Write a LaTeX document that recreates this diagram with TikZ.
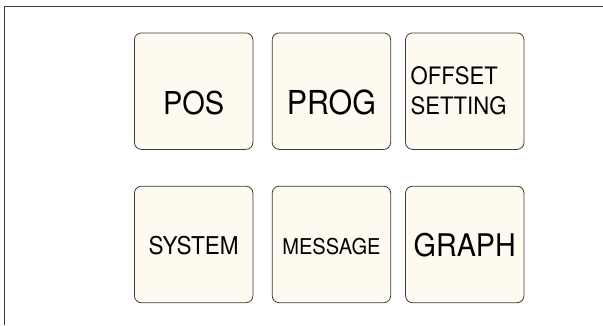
\documentclass[tikz,border=0pt]{standalone}
\usepackage{fontspec}
\setmainfont{TeX Gyre Heros}[FakeStretch=0.92]
\usepackage{xcolor}
\usepackage{tikz}
\usetikzlibrary{matrix}
\definecolor{keyfill}{RGB}{255,250,240}
\definecolor{keyline}{RGB}{60,60,60}
\definecolor{framegray}{RGB}{60,60,60}
\newcommand\keysize[2]{\fontsize{#1}{#2}\selectfont}
\tikzstyle{frame}=[draw=framegray,line width=1.5pt]
\tikzstyle{key}=[draw=keyline,fill=keyfill,line width=.8pt,rounded corners=7pt,
  minimum width=118.5pt,minimum height=116.5pt,inner sep=0pt,anchor=center]
\tikzstyle{toprow}=[text height=46.8pt,text depth=0pt]
\tikzstyle{botrow}=[text height=19.6pt,text depth=0pt]

\begin{document}
\begin{tikzpicture}[x=1pt,y=1pt]
	\useasboundingbox (0,0) rectangle (603,-325);
	\draw[frame] (4.5,-325) |- (603,-6.5);
	\matrix [matrix of nodes, nodes={key}, inner sep=0pt, anchor=north west] (keys) at (133.8,-32.3) {
	  		|[toprow,font=\keysize{31.5pt}{38pt}]| POS
	  &[18.5pt] |[toprow,font=\keysize{33pt}{39pt}]| PROG
	  &[14pt]   |[align=left,text width=108pt,font=\keysize{24pt}{30pt}]| {OFFSET\\SETTING}
	\\[36pt]  |[botrow,font=\keysize{24.5pt}{30pt}]| SYSTEM
	  &       |[botrow,font=\keysize{21.8pt}{27pt}]| MESSAGE
	  &       |[text height=25pt,text depth=0pt,font=\keysize{31.2pt}{38pt}]| GRAPH
	\\ };
\end{tikzpicture}
\end{document}
